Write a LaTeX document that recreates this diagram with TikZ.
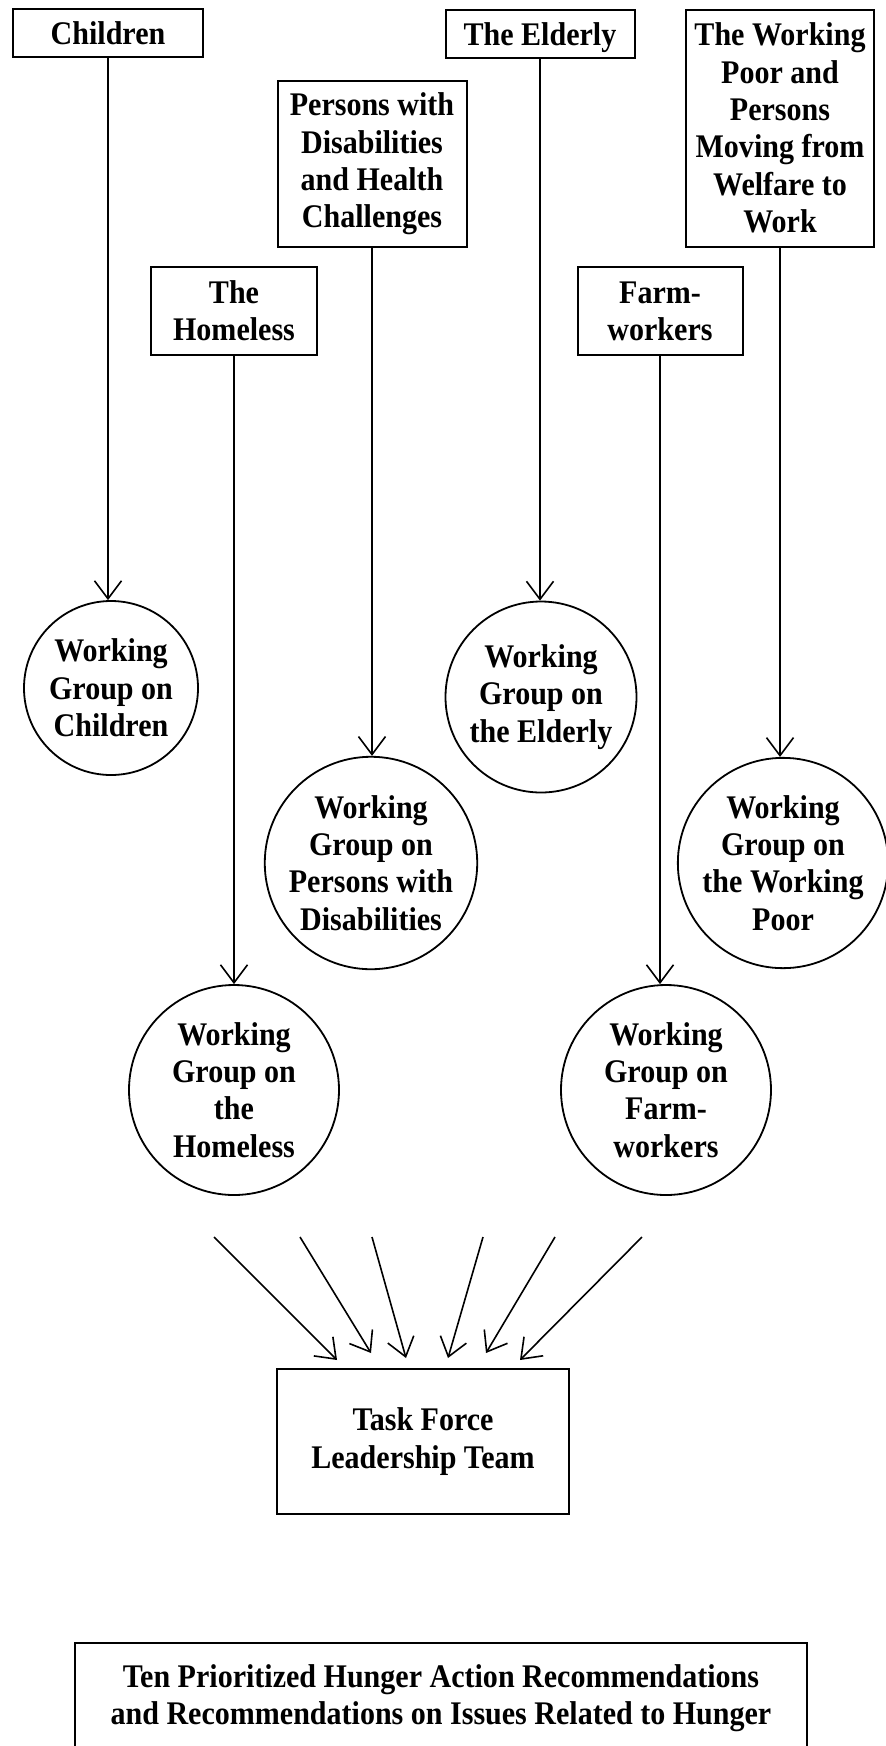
\documentclass[tikz,border=0pt]{standalone}
\usepackage{fontspec}
\setmainfont{Liberation Serif}[FakeStretch=0.91]
\usepackage{tikz}
\usetikzlibrary{arrows.meta}

\begin{document}
\begin{tikzpicture}[x=0.5pt,y=-0.5pt,
	every node/.style={font=\fontsize{16.5}{18.65}\selectfont\bfseries,align=center,inner sep=0pt},
	group/.style={draw,line width=1pt,rectangle},
	workgroup/.style={draw,line width=0.9pt,circle},
	feed/.style={line width=0.8pt,-{Straight Barb[length=9pt,width=13.5pt]}}]
\clip (0,0) rectangle (886,1746);

\node [group,minimum width=95pt,minimum height=24pt] (children) at (108,33) {Children};
\node [group,minimum width=94.5pt,minimum height=24pt,text depth=0pt] (elderly) at (540,34) {The Elderly};
\node [group,minimum width=94pt,minimum height=118.5pt] (poor) at (780,128) {The Working\\Poor and\\Persons\\Moving from\\Welfare to\\Work};
\node [group,minimum width=94.5pt,minimum height=83pt] (disabled) at (372,164) {Persons with\\Disabilities\\and Health\\Challenges};
\node [group,minimum width=83pt,minimum height=44pt] (homeless) at (234,311) {The\\Homeless};
\node [group,minimum width=82.5pt,minimum height=44pt] (farm) at (660,311) {Farm-\\workers};

\node [workgroup,minimum size=87pt] (wgchildren) at (111,688) {Working\\Group on\\Children};
\node [workgroup,minimum size=95.5pt] (wgelderly) at (541,697) {Working\\Group on\\the Elderly};
\node [workgroup,minimum size=105pt] (wgdisabled) at (371,863) {Working\\Group on\\Persons with\\Disabilities};
\node [workgroup,minimum size=105pt] (wgpoor) at (783,863) {Working\\Group on\\the Working\\Poor};
\node [workgroup,minimum size=105pt] (wghomeless) at (234,1090) {Working\\Group on\\the\\Homeless};
\node [workgroup,minimum size=105pt] (wgfarm) at (666,1090) {Working\\Group on\\Farm-\\workers};

\node [group,minimum width=146pt,minimum height=72.5pt] (taskforce) at (423,1441.5) {Task Force\\Leadership Team};
\node [group,minimum width=366pt,minimum height=55pt] (recommend) at (441,1698) {Ten Prioritized Hunger Action Recommendations\\and Recommendations on Issues Related to Hunger};

\draw [feed] (children.south) -- (children.south |- wgchildren.north);
\draw [feed] (elderly.south) -- (elderly.south |- wgelderly.north);
\draw [feed] (disabled.south) -- (disabled.south |- wgdisabled.north);
\draw [feed] (poor.south) -- (poor.south |- wgpoor.north);
\draw [feed] (homeless.south) -- (homeless.south |- wghomeless.north);
\draw [feed] (farm.south) -- (farm.south |- wgfarm.north);

\coordinate (from1) at (214,1237);
\coordinate (from2) at (300,1237);
\coordinate (from3) at (372,1237);
\coordinate (from4) at (483,1237);
\coordinate (from5) at (555,1237);
\coordinate (from6) at (642,1237);
\coordinate (to1) at (337,1360);
\coordinate (to2) at (371,1353);
\coordinate (to3) at (406,1358);
\coordinate (to4) at (448,1358);
\coordinate (to5) at (486,1353);
\coordinate (to6) at (520,1360);
\draw [feed] (from1) -- (to1);
\draw [feed] (from2) -- (to2);
\draw [feed] (from3) -- (to3);
\draw [feed] (from4) -- (to4);
\draw [feed] (from5) -- (to5);
\draw [feed] (from6) -- (to6);
\end{tikzpicture}
\end{document}
